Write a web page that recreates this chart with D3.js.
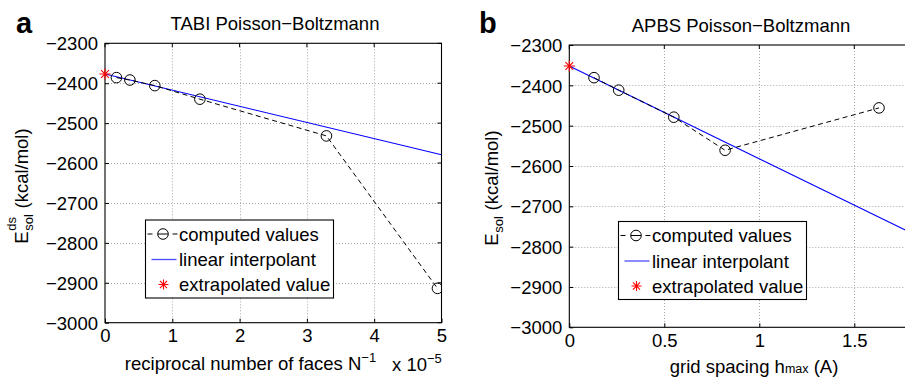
<!DOCTYPE html>
<html><head><meta charset="utf-8">
<script src="https://cdn.jsdelivr.net/npm/d3@7"></script>
<style>
body{margin:0;background:#fff}
svg{display:block;background:#fff}
text{font-family:"Liberation Sans",Arial,Helvetica,sans-serif;fill:#000;white-space:pre}
</style>
</head><body>
<svg id="chart" width="905" height="377"></svg>
<script>
// Panel a: TABI boundary-element solver, energy vs reciprocal face count (×1e-5)
const tabiX = [0.17, 0.37, 0.74, 1.41, 3.29, 4.94];
const tabiE = [-2386, -2392, -2406, -2440, -2532, -2914];
const tabiFitX = [0, 5];
const tabiFitE = [-2377, -2579];
const tabiExtrapX = [0];
const tabiExtrapE = [-2377];
const tabiXTicks = [0, 1, 2, 3, 4, 5];

// Panel b: APBS finite-difference solver, energy vs grid spacing
const apbsH = [0.13, 0.26, 0.55, 0.82, 1.63];
const apbsE = [-2381, -2412, -2479, -2561, -2456];
const apbsFitH = [0, 1.8];
const apbsFitE = [-2352, -2766];
const apbsExtrapH = [0];
const apbsExtrapE = [-2352];
const apbsXTicks = [0, 0.5, 1, 1.5];

const yTicks = [-3000, -2900, -2800, -2700, -2600, -2500, -2400, -2300];
const legendLabels = ["computed values", "linear interpolant", "extrapolated value"];

const svg = d3.select("#chart");
const FS = 18.5;
const minus = s => String(s).replace("-", "\u2212");

function starPath(cx, cy, r) {
  const d = r * Math.SQRT1_2;
  return `M${cx - r},${cy}L${cx + r},${cy}M${cx},${cy - r}L${cx},${cy + r}` +
         `M${cx - d},${cy - d}L${cx + d},${cy + d}M${cx - d},${cy + d}L${cx + d},${cy - d}`;
}

function drawPanel(cfg) {
  const x = d3.scaleLinear().domain(cfg.xDomain).range(cfg.xRange);
  const y = d3.scaleLinear().domain([-3000, -2300]).range(cfg.yRange);
  const [x0, x1] = cfg.xRange, [y0, y1] = cfg.yRange; // y0 bottom, y1 top
  const g = svg.append("g");

  const clipId = "clip-" + cfg.id;
  g.append("clipPath").attr("id", clipId).append("rect")
    .attr("x", x0).attr("y", y1).attr("width", x1 - x0).attr("height", y0 - y1);

  // dotted grid
  const grid = g.append("g").attr("stroke", "#a8a8a8").attr("stroke-width", 1)
    .attr("stroke-dasharray", "1,2");
  grid.selectAll(".gx").data(cfg.xTicks.filter(t => t > cfg.xDomain[0] && t < cfg.xDomain[1]))
    .join("line").attr("x1", d => Math.round(x(d)) + 0.5).attr("x2", d => Math.round(x(d)) + 0.5)
    .attr("y1", y1).attr("y2", y0);
  grid.selectAll(".gy").data(yTicks.filter(t => t > -3000 && t < -2300))
    .join("line").attr("y1", d => Math.round(y(d)) + 0.5).attr("y2", d => Math.round(y(d)) + 0.5)
    .attr("x1", x0).attr("x2", x1);

  // axes with inward ticks, then mirrored ticks on top/right
  const xAxis = d3.axisBottom(x).tickValues(cfg.xTicks).tickSizeInner(-4).tickSizeOuter(0)
    .tickFormat(d => d3.format("")(d)).tickPadding(9);
  const gx = g.append("g").attr("transform", `translate(0,${y0})`).call(xAxis);
  const yAxis = d3.axisLeft(y).tickValues(yTicks).tickSizeInner(-4).tickSizeOuter(0)
    .tickFormat(d => minus(d)).tickPadding(7);
  const gy = g.append("g").attr("transform", `translate(${x0},0)`).call(yAxis);
  [gx, gy].forEach(a => {
    a.select(".domain").remove();
    a.selectAll("line").attr("stroke", "#000");
    a.selectAll("text").attr("font-size", FS).attr("font-family", null).attr("fill", "#000");
  });
  gx.selectAll("text").attr("dy", null).attr("y", cfg.xTickBaseline - y0);
  gy.selectAll("text").attr("dy", "0.36em");
  g.append("g").attr("stroke", "#000").selectAll("line").data(cfg.xTicks).join("line")
    .attr("x1", d => x(d)).attr("x2", d => x(d)).attr("y1", y1).attr("y2", y1 + 4);
  g.append("g").attr("stroke", "#000").selectAll("line").data(yTicks).join("line")
    .attr("y1", d => y(d)).attr("y2", d => y(d)).attr("x1", x1).attr("x2", x1 - 4);

  // box
  g.append("rect").attr("x", x0).attr("y", y1).attr("width", x1 - x0).attr("height", y0 - y1)
    .attr("fill", "none").attr("stroke", "#000").attr("stroke-width", 1.1);

  const plot = g.append("g").attr("clip-path", `url(#${clipId})`);
  const line = d3.line().x(d => x(d[0])).y(d => y(d[1]));

  // linear interpolant
  plot.append("path").datum(d3.zip(cfg.fitX, cfg.fitE)).attr("d", line)
    .attr("fill", "none").attr("stroke", "#0000ff").attr("stroke-width", 1.1);
  // computed values
  plot.append("path").datum(d3.zip(cfg.ptX, cfg.ptE)).attr("d", line)
    .attr("fill", "none").attr("stroke", "#000").attr("stroke-width", 1).attr("stroke-dasharray", "5,3.5");
  plot.selectAll("circle.pt").data(d3.zip(cfg.ptX, cfg.ptE)).join("circle")
    .attr("cx", d => x(d[0])).attr("cy", d => y(d[1])).attr("r", 5.3)
    .attr("fill", "none").attr("stroke", "#000").attr("stroke-width", 1);
  // extrapolated value
  g.selectAll("path.star").data(d3.zip(cfg.exX, cfg.exE)).join("path")
    .attr("d", d => starPath(x(d[0]), y(d[1]), 5.5))
    .attr("stroke", "#ff0000").attr("stroke-width", 1.1).attr("fill", "none");

  // title and panel letter
  g.append("text").attr("x", cfg.titleX).attr("y", cfg.titleY).attr("text-anchor", "middle")
    .attr("font-size", FS).text(cfg.title);
  g.append("text").attr("x", cfg.letterX).attr("y", 33).attr("font-size", 29)
    .attr("font-weight", "bold").text(cfg.letter);

  // legend
  const L = cfg.legend;
  const lg = g.append("g").attr("transform", `translate(${L.x},${L.y})`);
  lg.append("rect").attr("width", L.w).attr("height", L.h).attr("fill", "#fff")
    .attr("stroke", "#000").attr("stroke-width", 1.1);
  const rows = [14, 39.5, 64.5];
  const r0 = rows[0];
  [[2, 7], [12.5, 22.5], [27, 32]].forEach(([a, b]) =>
    lg.append("line").attr("x1", a).attr("x2", b).attr("y1", r0).attr("y2", r0).attr("stroke", "#000"));
  lg.append("circle").attr("cx", 17.5).attr("cy", r0).attr("r", 5.3).attr("fill", "none").attr("stroke", "#000");
  lg.append("line").attr("x1", 6).attr("x2", 31).attr("y1", rows[1]).attr("y2", rows[1])
    .attr("stroke", "#4d4dff").attr("stroke-width", 1.3);
  lg.append("path").attr("d", starPath(18, rows[2], 5)).attr("stroke", "#ff0000").attr("stroke-width", 1.1);
  lg.selectAll("text.lab").data(legendLabels).join("text")
    .attr("x", 33.5).attr("y", (d, i) => rows[i] + 6.5).attr("font-size", FS).text(d => d);

  // y label: E with stacked super/subscript, then units, rotated
  const yl = g.append("g");
  const parts = yl.append("g");
  const tE = parts.append("text").attr("font-size", FS).attr("x", 0).attr("y", 0).text("E");
  const wE = tE.node().getComputedTextLength();
  let wScript = 0;
  if (cfg.ySup) {
    const ts = parts.append("text").attr("font-size", 13).attr("x", wE + 0.5).attr("y", -12).text(cfg.ySup);
    wScript = Math.max(wScript, ts.node().getComputedTextLength());
  }
  const tb = parts.append("text").attr("font-size", 13).attr("x", wE + 0.5).attr("y", 5).text("sol");
  wScript = Math.max(wScript, tb.node().getComputedTextLength());
  const tu = parts.append("text").attr("font-size", FS).attr("x", wE + wScript + 1).attr("y", 0).text(" (kcal/mol)");
  const total = wE + wScript + 1 + tu.node().getComputedTextLength();
  parts.attr("transform", `translate(${-total / 2},0)`);
  yl.attr("transform", `translate(${cfg.yLabelX},${cfg.yLabelY}) rotate(-90)`);

  cfg.xLabel(g);
}

drawPanel({
  id: "a", letter: "a", letterX: 16, title: "TABI Poisson\u2212Boltzmann", titleX: 275, titleY: 29.5,
  xDomain: [0, 5], xRange: [105, 441.5], yRange: [322.7, 43.3], xTicks: tabiXTicks, xTickBaseline: 342,
  ptX: tabiX, ptE: tabiE, fitX: tabiFitX, fitE: tabiFitE, exX: tabiExtrapX, exE: tabiExtrapE,
  legend: { x: 145.5, y: 220, w: 188, h: 78 },
  ySup: "ds", yLabelX: 28, yLabelY: 186,
  xLabel: g => {
    const t = g.append("text").attr("x", 250.5).attr("y", 370).attr("text-anchor", "middle").attr("font-size", FS);
    t.append("tspan").text("reciprocal number of faces N");
    t.append("tspan").attr("font-size", 13).attr("dy", -8).text("\u22121");
    const s = g.append("text").attr("x", 392).attr("y", 371).attr("font-size", FS);
    s.append("tspan").text("x 10");
    s.append("tspan").attr("font-size", 13).attr("dy", -8).text("\u22125");
  }
});

drawPanel({
  id: "b", letter: "b", letterX: 479, title: "APBS Poisson\u2212Boltzmann", titleX: 741, titleY: 31.5,
  xDomain: [0, 1.8], xRange: [569.3, 911.3], yRange: [327.3, 45], xTicks: apbsXTicks, xTickBaseline: 347.5,
  ptX: apbsH, ptE: apbsE, fitX: apbsFitH, fitE: apbsFitE, exX: apbsExtrapH, exE: apbsExtrapE,
  legend: { x: 618.5, y: 221.5, w: 188, h: 78 },
  ySup: null, yLabelX: 498, yLabelY: 188,
  xLabel: g => {
    const t = g.append("text").attr("x", 754).attr("y", 373).attr("text-anchor", "middle").attr("font-size", FS);
    t.append("tspan").text("grid spacing h");
    t.append("tspan").attr("font-size", 12.5).text("max");
    t.append("tspan").text(" (A)");
  }
});
</script>
</body></html>
